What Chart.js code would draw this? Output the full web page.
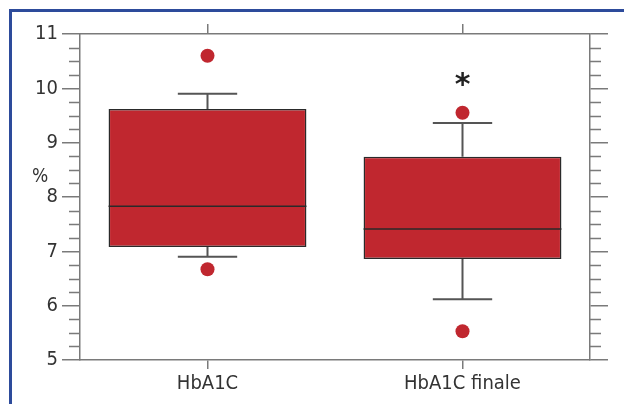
<!DOCTYPE html>
<html>
<head>
<meta charset="utf-8">
<script src="https://cdn.jsdelivr.net/npm/chart.js"></script>
<style>
  body { margin: 0; background: #fff; }
  #wrap { width: 624px; height: 404px; }
</style>
</head>
<body>
<div id="wrap"><canvas id="c" width="624" height="404"></canvas></div>
<script>
// box plot values
const categories = ['HbA1C', 'HbA1C finale'];
const q1 = [7.08, 6.86];
const q3 = [9.62, 8.74];
const medians = [7.83, 7.41];
const whiskerLow = [6.90, 6.12];
const whiskerHigh = [9.90, 9.36];
const outlierHigh = [10.60, 9.55];
const outlierLow = [6.67, 5.53];
const marks = ['', '*'];
const markY = [null, 10.17];
const yTicks = [5, 6, 7, 8, 9, 10, 11];

const FONT = "'Liberation Sans Narrow', 'DejaVu Sans Condensed', 'Liberation Sans', sans-serif";
const RED = '#c0272f';
const AXIS = '#7a7a7a';

const boxPlugin = {
  id: 'boxExtras',
  beforeDraw(chart) {
    const ctx = chart.ctx;
    ctx.save();
    // blue page frame
    ctx.fillStyle = '#2d4b9b';
    ctx.fillRect(9, 9, 615, 3);
    ctx.fillRect(9, 9, 3, 395);
    ctx.restore();
  },
  afterDatasetsDraw(chart) {
    const ctx = chart.ctx;
    const x = chart.scales.x, y = chart.scales.y;
    const meta = chart.getDatasetMeta(0);
    ctx.save();
    categories.forEach((c, i) => {
      const cx = x.getPixelForValue(i);
      const w = meta.data[i].width;
      const cap = w * 0.15;
      // whiskers
      ctx.strokeStyle = '#555';
      ctx.lineWidth = 2;
      ctx.beginPath();
      ctx.moveTo(cx, y.getPixelForValue(q3[i]));
      ctx.lineTo(cx, y.getPixelForValue(whiskerHigh[i]));
      ctx.moveTo(cx - cap, y.getPixelForValue(whiskerHigh[i]));
      ctx.lineTo(cx + cap, y.getPixelForValue(whiskerHigh[i]));
      ctx.moveTo(cx, y.getPixelForValue(q1[i]));
      ctx.lineTo(cx, y.getPixelForValue(whiskerLow[i]));
      ctx.moveTo(cx - cap, y.getPixelForValue(whiskerLow[i]));
      ctx.lineTo(cx + cap, y.getPixelForValue(whiskerLow[i]));
      ctx.stroke();
      // median
      ctx.strokeStyle = '#2a2a2a';
      ctx.lineWidth = 1.5;
      ctx.beginPath();
      ctx.moveTo(cx - w / 2, y.getPixelForValue(medians[i]));
      ctx.lineTo(cx + w / 2, y.getPixelForValue(medians[i]));
      ctx.stroke();
      // significance mark
      if (marks[i]) {
        ctx.fillStyle = '#222';
        ctx.font = 'bold 30px DejaVu Sans';
        ctx.textAlign = 'center';
        ctx.textBaseline = 'middle';
        ctx.fillText(marks[i], cx, y.getPixelForValue(markY[i]) + 7);
      }
    });
    ctx.restore();
  },
  afterDraw(chart) {
    const ctx = chart.ctx;
    const y = chart.scales.y;
    const a = chart.chartArea;
    ctx.save();
    // minor ticks on both sides
    ctx.strokeStyle = AXIS;
    ctx.lineWidth = 1.5;
    ctx.beginPath();
    for (let k = 0; k < yTicks.length - 1; k++) {
      for (let m = 1; m < 4; m++) {
        const py = Math.round(y.getPixelForValue(yTicks[k] + m * 0.25)) + 0.5;
        ctx.moveTo(a.left - 11, py);
        ctx.lineTo(a.left, py);
        ctx.moveTo(a.right, py);
        ctx.lineTo(a.right + 11, py);
      }
    }
    ctx.stroke();
    // unit label
    ctx.fillStyle = '#333';
    ctx.font = '19px ' + FONT;
    ctx.textAlign = 'center';
    ctx.textBaseline = 'middle';
    ctx.fillText('%', 40, 177);
    ctx.restore();
  }
};

new Chart(document.getElementById('c'), {
  type: 'bar',
  data: {
    labels: categories,
    datasets: [
      {
        data: categories.map((c, i) => [q1[i], q3[i]]),
        backgroundColor: RED,
        borderColor: '#2a2a2a',
        borderWidth: 1.5,
        borderSkipped: false,
        barPercentage: 0.776,
        categoryPercentage: 1
      },
      {
        type: 'line',
        data: outlierHigh,
        showLine: false,
        pointRadius: 7,
        pointBackgroundColor: RED,
        pointBorderWidth: 0
      },
      {
        type: 'line',
        data: outlierLow,
        showLine: false,
        pointRadius: 7,
        pointBackgroundColor: RED,
        pointBorderWidth: 0
      }
    ]
  },
  plugins: [boxPlugin],
  options: {
    responsive: false,
    animation: false,
    layout: { padding: 0 },
    plugins: { legend: { display: false }, tooltip: { enabled: false } },
    scales: {
      x: {
        type: 'category',
        position: 'bottom',
        offset: true,
        afterFit(s) { s.height = 44; },
        grid: { drawOnChartArea: false, offset: false, tickLength: 9, color: AXIS, lineWidth: 1.5 },
        border: { display: true, color: AXIS, width: 1.5 },
        ticks: { color: '#333', font: { family: FONT, size: 20 }, padding: 3, maxRotation: 0 }
      },
      x2: {
        type: 'category',
        labels: categories,
        position: 'top',
        offset: true,
        afterFit(s) { s.height = 34; },
        grid: { drawOnChartArea: false, offset: false, tickLength: 10, color: AXIS, lineWidth: 1.5 },
        border: { display: true, color: AXIS, width: 1.5 },
        ticks: { display: false }
      },
      y: {
        type: 'linear',
        position: 'left',
        min: 5,
        max: 11,
        afterFit(s) { s.width = 80; },
        afterBuildTicks(s) { s.ticks = yTicks.map(v => ({ value: v })); },
        grid: { drawOnChartArea: false, tickLength: 18, color: AXIS, lineWidth: 1.5 },
        border: { display: true, color: AXIS, width: 1.5 },
        ticks: { color: '#333', font: { family: FONT, size: 20 }, padding: 4 }
      },
      y2: {
        type: 'linear',
        position: 'right',
        min: 5,
        max: 11,
        afterFit(s) { s.width = 34; },
        afterBuildTicks(s) { s.ticks = yTicks.map(v => ({ value: v })); },
        grid: { drawOnChartArea: false, tickLength: 18, color: AXIS, lineWidth: 1.5 },
        border: { display: true, color: AXIS, width: 1.5 },
        ticks: { display: false }
      }
    }
  }
});
</script>
</body>
</html>
